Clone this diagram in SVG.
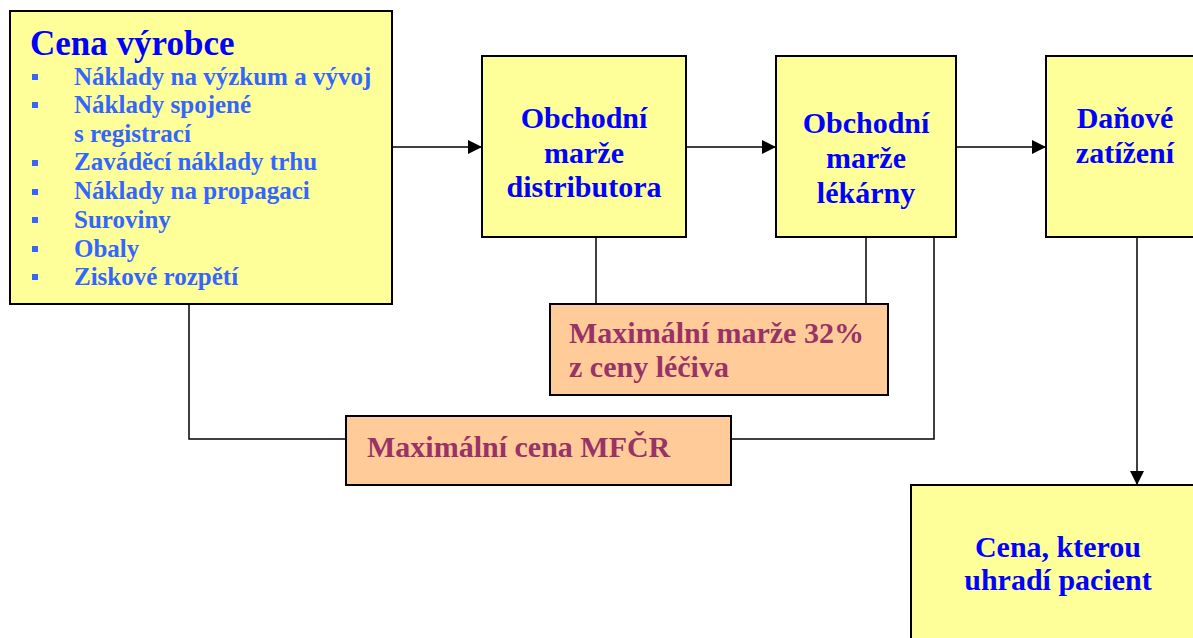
<svg xmlns="http://www.w3.org/2000/svg" width="1193" height="638" viewBox="0 0 1193 638">
<defs>
<marker id="arr" viewBox="0 0 10 10" refX="10" refY="5" markerWidth="14" markerHeight="14" markerUnits="userSpaceOnUse" orient="auto">
<path d="M0,0 L10,5 L0,10 z" fill="#000"/>
</marker>
<style>
.y{fill:#ffff99;stroke:#000;stroke-width:2}
.o{fill:#ffcc99;stroke:#000;stroke-width:2}
.t{font-family:"Liberation Serif","Times New Roman",serif;font-weight:bold}
.b{fill:#0000ff;font-size:30px;text-anchor:middle}
.l{fill:#3366ff;font-size:25px}
.m{fill:#993366;font-size:30px}
.c{fill:none;stroke:#000;stroke-width:1.5}
.sq{fill:#3366ff}
</style>
</defs>
<rect width="1193" height="638" fill="#fff"/>
<g id="connectors">
<line class="c" x1="392" y1="147" x2="482" y2="147" marker-end="url(#arr)"/>
<line class="c" x1="686" y1="147" x2="776" y2="147" marker-end="url(#arr)"/>
<line class="c" x1="956" y1="147" x2="1046" y2="147" marker-end="url(#arr)"/>
<line class="c" x1="1137" y1="237" x2="1137" y2="485" marker-end="url(#arr)"/>
<line class="c" x1="596" y1="237" x2="596" y2="304"/>
<line class="c" x1="866" y1="237" x2="866" y2="304"/>
<polyline class="c" points="189,304 189,439 346,439"/>
<polyline class="c" points="731,439 934,439 934,237"/>
</g>
<g id="cena-vyrobce">
<rect class="y" x="10" y="11" width="382" height="293"/>
<text class="t" x="30" y="55" fill="#0000ff" font-size="35">Cena výrobce</text>
<rect class="sq" x="32" y="74" width="6" height="6"/>
<rect class="sq" x="32" y="102" width="6" height="6"/>
<rect class="sq" x="32" y="160" width="6" height="6"/>
<rect class="sq" x="32" y="189" width="6" height="6"/>
<rect class="sq" x="32" y="217" width="6" height="6"/>
<rect class="sq" x="32" y="246" width="6" height="6"/>
<rect class="sq" x="32" y="274" width="6" height="6"/>
<text class="t l" x="74" y="85">Náklady na výzkum a vývoj</text>
<text class="t l" x="74" y="113">Náklady spojené</text>
<text class="t l" x="74" y="142">s registrací</text>
<text class="t l" x="74" y="170">Zaváděcí náklady trhu</text>
<text class="t l" x="74" y="199">Náklady na propagaci</text>
<text class="t l" x="74" y="228">Suroviny</text>
<text class="t l" x="74" y="257">Obaly</text>
<text class="t l" x="74" y="285">Ziskové rozpětí</text>
</g>
<g id="marze-distributora">
<rect class="y" x="482" y="56" width="204" height="181"/>
<text class="t b" x="584" y="128">Obchodní</text>
<text class="t b" x="584" y="163">marže</text>
<text class="t b" x="584" y="197">distributora</text>
</g>
<g id="marze-lekarny">
<rect class="y" x="776" y="56" width="180" height="181"/>
<text class="t b" x="866" y="133">Obchodní</text>
<text class="t b" x="866" y="168">marže</text>
<text class="t b" x="866" y="203">lékárny</text>
</g>
<g id="danove-zatizeni">
<rect class="y" x="1046" y="56" width="160" height="181"/>
<text class="t b" x="1125" y="128">Daňové</text>
<text class="t b" x="1125" y="163">zatížení</text>
</g>
<g id="cena-pacient">
<rect class="y" x="911" y="485" width="295" height="170"/>
<text class="t b" x="1058" y="557" font-size="28.5">Cena, kterou</text>
<text class="t b" x="1058" y="590" font-size="28.5">uhradí pacient</text>
</g>
<g id="max-marze">
<rect class="o" x="550" y="304" width="338" height="91"/>
<text class="t m" x="569" y="343">Maximální marže 32%</text>
<text class="t m" x="569" y="377">z ceny léčiva</text>
</g>
<g id="max-cena">
<rect class="o" x="346" y="416" width="385" height="69"/>
<text class="t m" x="367" y="457">Maximální cena MFČR</text>
</g>
</svg>
